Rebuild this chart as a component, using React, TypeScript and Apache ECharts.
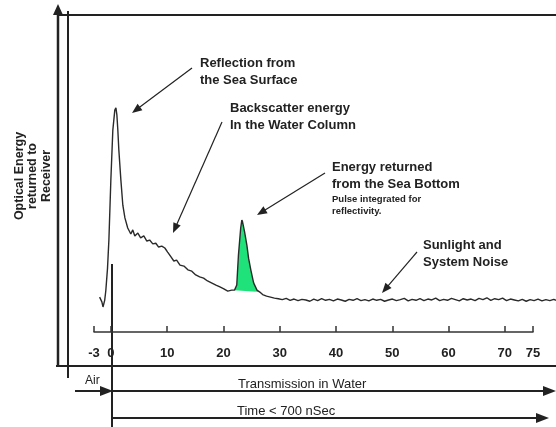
import React, { useEffect, useRef } from "react";
import * as echarts from "echarts";

// Time (nSec-scale units on the axis) and optical energy (arbitrary units)
const prePulse: [number, number][] = [
  [-2.0, 11], [-1.6, 9.5], [-1.4, 7.9], [-1.1, 10], [-0.9, 13], [-0.6, 20], [-0.35, 29],
];
const surfaceReturn: [number, number][] = [
  [0, 48], [0.35, 63.7], [0.7, 70], [0.9, 70.7], [1.07, 68.5], [1.24, 63.7], [1.42, 57.4],
  [1.78, 48], [2.13, 40], [2.5, 36], [3.0, 32.8], [3.55, 30.9],
];
const backscatter: [number, number][] = [
  [3.9, 32.2], [4.26, 30.3], [4.8, 31.2], [5.3, 29.7], [5.86, 30.3], [6.4, 28.7], [6.9, 29],
  [7.46, 27.8], [8.0, 28], [8.5, 26.8], [9.06, 27.1], [9.6, 26.5], [10.1, 25.2], [10.7, 23.7],
  [11.2, 22.4], [11.7, 22.7], [12.3, 21.1], [13, 20.8], [13.7, 19.6], [14.4, 19.2], [15.1, 18],
  [15.8, 17.4], [16.5, 17], [17.2, 16.1], [17.9, 15.5], [18.7, 14.8], [19.4, 14.2], [20.1, 13.6],
  [20.8, 12.9], [21.5, 13.2], [22.0, 13.2],
];
const bottomPulse: [number, number][] = [
  [22.4, 14.8], [22.7, 24.3], [23.1, 32.8], [23.3, 35.3], [23.4, 35], [23.8, 31.5], [24.2, 27.4],
  [24.5, 23.3], [24.9, 19.6], [25.4, 15.5], [26.0, 13.2], [26.5, 12.6],
];
const noiseFloor: [number, number][] = [
  [27.0, 11.8], [27.7, 11.3], [28.4, 11.0], [29.1, 10.7], [29.8, 10.5], [30.5, 10.2], [31.2, 10.6],
  [31.9, 10.0], [32.6, 10.4], [33.3, 9.9], [34.0, 10.3], [34.7, 10.1], [35.4, 9.7], [36.1, 10.4],
  [36.8, 9.9], [37.5, 10.5], [38.2, 10.0], [38.9, 10.3], [39.6, 9.8], [40.3, 10.4], [41.0, 10.1],
  [41.7, 9.7], [42.4, 10.3], [43.1, 10.0], [43.8, 10.5], [44.5, 9.9], [45.2, 10.2], [45.9, 9.8],
  [46.6, 10.4], [47.3, 10.0], [48.0, 10.3], [48.7, 9.7], [49.4, 10.1], [50.1, 10.4], [50.8, 9.9],
  [51.5, 10.2], [52.2, 10.6], [52.9, 9.8], [53.6, 10.3], [54.3, 10.0], [55.0, 10.5], [55.7, 9.9],
  [56.4, 10.4], [57.1, 10.1], [57.8, 10.7], [58.5, 9.9], [59.2, 10.3], [59.9, 10.0], [60.6, 10.6],
  [61.3, 10.2], [62.0, 9.8], [62.7, 10.5], [63.4, 10.1], [64.1, 10.4], [64.8, 9.9], [65.5, 10.6],
  [66.2, 10.2], [66.9, 10.8], [67.6, 10.0], [68.3, 10.5], [69.0, 10.2], [69.7, 10.7], [70.4, 9.9],
  [71.1, 10.4], [71.8, 10.1], [72.5, 9.8], [73.2, 10.3], [73.9, 9.7], [74.6, 10.2], [75.3, 9.9],
  [76.0, 10.4], [76.7, 9.8], [77.4, 10.2], [78.1, 9.9], [78.8, 10.3], [79.2, 10.0],
];
const tickValues = [-3, 0, 10, 20, 30, 40, 50, 60, 70, 75];

const FONT = "'Liberation Sans', Arial, sans-serif";
const INK = "#222";

function arrowhead(x1: number, y1: number, x2: number, y2: number, len = 10, w = 4) {
  const dx = x2 - x1, dy = y2 - y1;
  const d = Math.hypot(dx, dy);
  const ux = dx / d, uy = dy / d;
  const bx = x2 - ux * len, by = y2 - uy * len;
  return {
    type: "polygon",
    shape: { points: [[x2, y2], [bx - uy * w, by + ux * w], [bx + uy * w, by - ux * w]] },
    style: { fill: INK },
    silent: true,
  };
}
function arrow(x1: number, y1: number, x2: number, y2: number, lw = 1.2, len = 10, w = 4) {
  const d = Math.hypot(x2 - x1, y2 - y1);
  const ex = x2 - ((x2 - x1) / d) * (len - 1), ey = y2 - ((y2 - y1) / d) * (len - 1);
  return [
    { type: "line", shape: { x1, y1, x2: ex, y2: ey }, style: { stroke: INK, lineWidth: lw }, silent: true },
    arrowhead(x1, y1, x2, y2, len, w),
  ];
}
function line(x1: number, y1: number, x2: number, y2: number, lw = 2) {
  return { type: "line", shape: { x1, y1, x2, y2 }, style: { stroke: INK, lineWidth: lw }, silent: true };
}
function text(t: string, x: number, y: number, size = 13, weight = "bold", extra: any = {}) {
  return {
    type: "text",
    x, y,
    style: { text: t, font: `${weight} ${size}px ${FONT}`, fill: INK, textVerticalAlign: "middle", lineHeight: size + 4, ...extra },
    silent: true,
  };
}

export default function App() {
  const ref = useRef<HTMLDivElement>(null);
  useEffect(() => {
    if (!ref.current) return;
    const chart = echarts.init(ref.current, undefined, { renderer: "svg" });
    const trace = [...prePulse, ...surfaceReturn, ...backscatter, ...bottomPulse, ...noiseFloor];
    const pulseShape = [backscatter[backscatter.length - 1], ...bottomPulse];
    const traceEnd = noiseFloor[noiseFloor.length - 1][0];

    const graphics: any[] = [
      // frame
      line(58, 12, 58, 366, 2.5),
      arrowhead(58, 20, 58, 4, 11, 5),
      line(68, 11, 68, 378, 2),
      line(58, 15, 556, 15, 2),
      line(56, 366, 556, 366, 2),
      line(112, 264, 112, 427, 2),
      // bottom arrows
      ...arrow(75, 391, 113, 391, 2, 13, 5),
      ...arrow(112, 391, 556, 391, 2, 13, 5),
      ...arrow(112, 418, 549, 418, 2, 13, 5),
      text("Air", 85, 380, 12, "normal"),
      text("Transmission in Water", 238, 383, 13, "normal"),
      text("Time < 700 nSec", 237, 410, 13, "normal"),
      // y-axis title
      {
        type: "text",
        x: 32, y: 176, rotation: Math.PI / 2,
        style: {
          text: "Optical Energy\nreturned to\nReceiver",
          font: `bold 12.5px ${FONT}`, fill: INK, textAlign: "center", textVerticalAlign: "middle", lineHeight: 13.5,
        },
        silent: true,
      },
      // annotations
      text("Reflection from\nthe Sea Surface", 200, 71, 13, "bold"),
      ...arrow(192, 68, 132, 113),
      text("Backscatter energy\nIn the Water Column", 230, 116, 13, "bold"),
      ...arrow(222, 122, 173, 233),
      text("Energy returned\nfrom the Sea Bottom", 332, 175, 13, "bold"),
      text("Pulse integrated for\nreflectivity.", 332, 204, 9.5, "bold", { lineHeight: 12 }),
      ...arrow(325, 173, 257, 215),
      text("Sunlight and\nSystem Noise", 423, 253, 13, "bold"),
      ...arrow(417, 252, 382, 293),
    ];

    chart.setOption({
      animation: false,
      grid: [
        { left: 94, right: 0, top: 15, bottom: 95 },
        { left: 94, right: 23, top: 15, bottom: 95 },
      ],
      xAxis: [
        { type: "value", gridIndex: 0, min: -3, max: traceEnd, show: false },
        {
          type: "value",
          gridIndex: 1,
          min: -3,
          max: 75,
          axisLine: { show: true, lineStyle: { color: "#333", width: 1.5 } },
          axisTick: { show: true, inside: true, length: 6, customValues: tickValues, lineStyle: { color: "#333", width: 1.5 } },
          axisLabel: {
            customValues: tickValues,
            margin: 14,
            color: INK,
            fontFamily: FONT,
            fontWeight: "bold",
            fontSize: 13,
          },
          splitLine: { show: false },
        },
      ],
      yAxis: [
        { type: "value", gridIndex: 0, min: 0, max: 100, show: false },
        { type: "value", gridIndex: 1, min: 0, max: 100, show: false },
      ],
      series: [
        {
          type: "custom",
          xAxisIndex: 0,
          yAxisIndex: 0,
          z: 1,
          data: pulseShape,
          renderItem: (params: any, api: any) => {
            if (params.dataIndex !== 0) return null;
            return {
              type: "polygon",
              shape: { points: pulseShape.map((p) => api.coord(p)) },
              style: { fill: "#1fe27a" },
            };
          },
        },
        {
          type: "line",
          xAxisIndex: 0,
          yAxisIndex: 0,
          z: 3,
          data: trace,
          symbol: "none",
          lineStyle: { color: "#2a2a2a", width: 1.4 },
        },
      ],
      graphic: graphics,
    });
    return () => chart.dispose();
  }, []);
  return <div ref={ref} style={{ position: "fixed", left: 0, top: 0, width: 556, height: 427 }} />;
}
